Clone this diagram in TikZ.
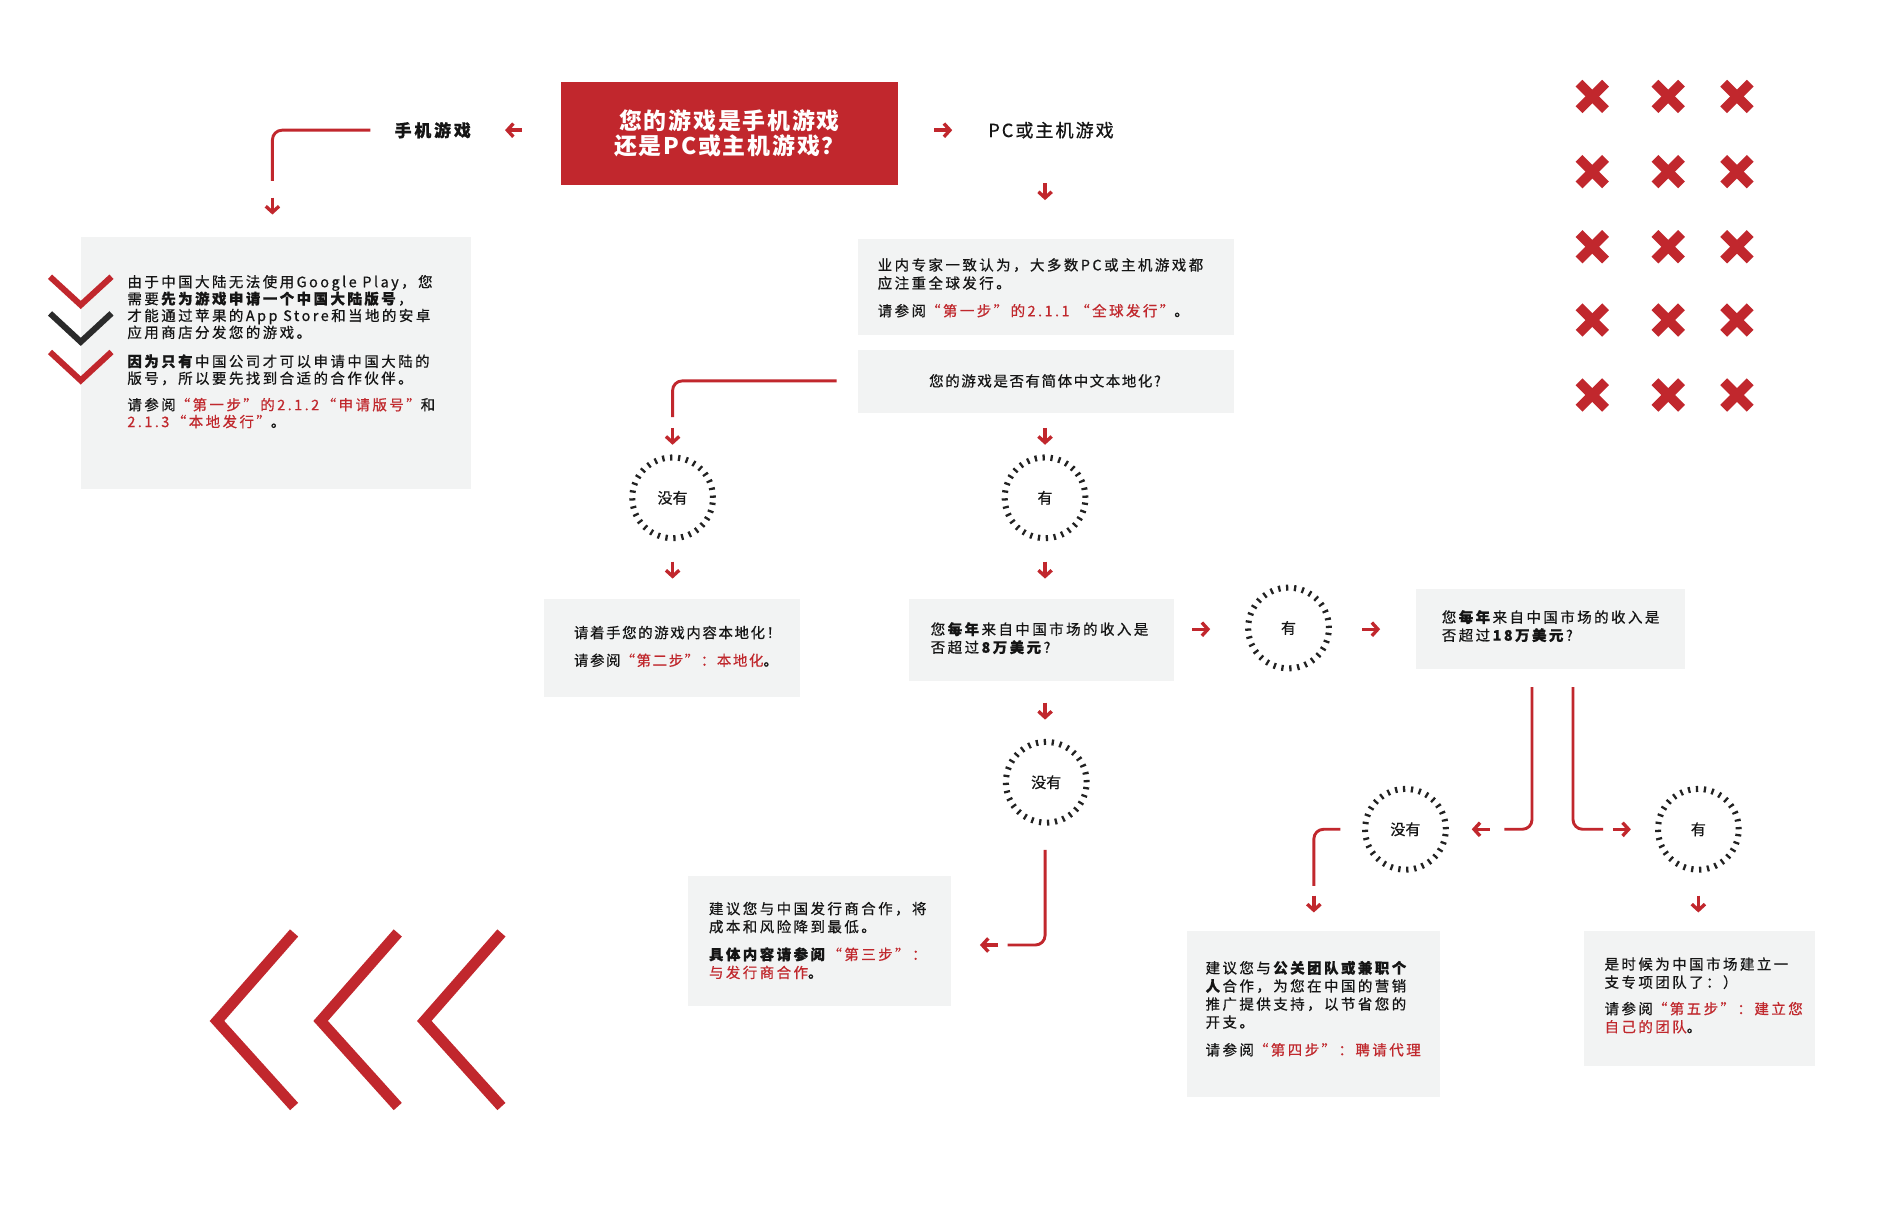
\documentclass[tikz,border=0pt]{standalone}
\usepackage{fontspec}
\setmainfont{Noto Sans CJK SC}
\newfontfamily\bodyf{Noto Sans CJK SC}[LetterSpace=17, FakeBold=0.6]
\newfontfamily\midf{Noto Sans CJK SC}[LetterSpace=11, FakeBold=0.6]
\newfontfamily\headf{Noto Sans CJK SC}[LetterSpace=8]
\newfontfamily\plainf{Noto Sans CJK SC}[FakeBold=0.6]
\usetikzlibrary{arrows.meta,calc}

\definecolor{brandred}{HTML}{C1272D}
\definecolor{linkred}{HTML}{C0282D}
\definecolor{panelgray}{HTML}{F2F3F3}
\definecolor{ink}{HTML}{151515}
\definecolor{tickc}{HTML}{222222}
\definecolor{darkv}{HTML}{2B2B2B}

\newcommand{\redtxt}[1]{\textcolor{linkred}{#1}}

\begin{document}
\begin{tikzpicture}[x=1pt,y=-1pt,
  panel/.style={fill=panelgray, anchor=north west, inner sep=0pt, outer sep=0pt},
  copy/.style={anchor=north west, inner sep=0pt, align=left, text=ink,
    font=\bodyf\fontsize{12}{15}\selectfont},
  ring/.style={circle, draw=tickc, line width=5pt, dash pattern=on 1.9pt off 4.7pt,
    minimum size=67pt, inner sep=0pt, text=ink, font=\plainf\fontsize{12.5}{14}\selectfont},
  link/.style={draw=brandred, line width=2.4pt, rounded corners=8pt},
  arr/.style={draw=brandred, line width=2.8pt, -{Straight Barb[length=5pt,width=11pt]}},
  chev/.style={line width=9pt, line join=miter, line cap=butt, draw=brandred},
  vmark/.style={line width=5pt, line join=miter, line cap=butt},
  cross/.style={line width=8pt, line cap=butt, draw=brandred}
]
\useasboundingbox[fill=white] (0,0) rectangle (1568,1006);

% ---------- title and first branch ----------
\node[fill=brandred, anchor=north west, minimum width=280pt, minimum height=85pt,
      inner sep=0pt, align=center, text=white,
      font=\headf\bfseries\fontsize{19}{20.5}\selectfont] (title) at (465,68)
  {您的游戏是手机游戏\\还是PC或主机游戏？};

\node[text=ink, inner sep=0pt, font=\bodyf\bfseries\fontsize{14}{16}\selectfont] (mob) at (359,108) {手机游戏};
\node[text=ink, inner sep=0pt, font=\midf\fontsize{15}{17}\selectfont] (pc) at (872,108) {PC或主机游戏};

\coordinate (aMobS) at (433,108);  \coordinate (aMobE) at (419,108);
\coordinate (aPcS)  at (775,108);  \coordinate (aPcE)  at (790,108);
\draw[arr] (aMobS) -- (aMobE);
\draw[arr] (aPcS) -- (aPcE);

% ---------- mobile path ----------
\coordinate (kMob) at (226,150);
\draw[link] ($(mob.west)+(-20,0)$) -| (kMob);
\coordinate (aM2S) at (226,164); \coordinate (aM2E) at (226,178);
\draw[arr] (aM2S) -- (aM2E);

\node[panel, minimum width=324pt, minimum height=209pt] (bMob) at (67,197) {};
\draw[vmark, draw=brandred] (41.5,229.6) -- (67,253) -- (92.5,229.6);
\draw[vmark, draw=darkv]    (41.5,260)   -- (67,283.6) -- (92.5,260);
\draw[vmark, draw=brandred] (41.5,292)   -- (67,315.6) -- (92.5,292);
\node[copy, font=\bodyf\fontsize{12}{14}\selectfont] (tMob) at (105.5,228) {由于中国大陆无法使用Google Play，您\\
需要\textbf{先为游戏申请一个中国大陆版号}，\\
才能通过苹果的App Store和当地的安卓\\
应用商店分发您的游戏。\\[10pt]
\textbf{因为只有}中国公司才可以申请中国大陆的\\
版号，所以要先找到合适的合作伙伴。\\[8pt]
请参阅\redtxt{“第一步”的2.1.2“申请版号”}和\\
\redtxt{2.1.3“本地发行”}。};

% ---------- PC path ----------
\coordinate (aPc2S) at (867,152); \coordinate (aPc2E) at (867,166);
\draw[arr] (aPc2S) -- (aPc2E);

\node[panel, minimum width=312pt, minimum height=80pt] (bGlobal) at (712,198) {};
\node[copy] (tGlobal) at (728,214) {业内专家一致认为，大多数PC或主机游戏都\\
应注重全球发行。\\[8pt]
请参阅\redtxt{“第一步”的2.1.1 “全球发行”}。};

\node[panel, minimum width=312pt, minimum height=53pt] (bLoc) at (712,290) {};
\node[text=ink, inner sep=0pt, font=\midf\fontsize{12}{14}\selectfont] (tLoc) at (867,316)
  {您的游戏是否有简体中文本地化?};

\coordinate (kLoc) at (558,346);
\draw[link] (bLoc.west |- tLoc) ++(-18,0) -| (kLoc);
\coordinate (aL1S) at (558,355); \coordinate (aL1E) at (558,369);
\draw[arr] (aL1S) -- (aL1E);
\coordinate (aL2S) at (867,355); \coordinate (aL2E) at (867,369);
\draw[arr] (aL2S) -- (aL2E);

\node[ring] (rNo1)  at (558,413) {没有};
\node[ring] (rYes1) at (867,413) {有};

\coordinate (aN1S) at (558,466); \coordinate (aN1E) at (558,480);
\draw[arr] (aN1S) -- (aN1E);
\coordinate (aY1S) at (867,466); \coordinate (aY1E) at (867,480);
\draw[arr] (aY1S) -- (aY1E);

\node[panel, minimum width=213pt, minimum height=81pt] (bDoLoc) at (451,497) {};
\node[copy, font=\midf\fontsize{12}{15}\selectfont] (tDoLoc) at (476,519)
  {请着手您的游戏内容本地化！\\[8pt]
   请参阅\redtxt{“第二步”：本地化}。};

\node[panel, minimum width=220pt, minimum height=68pt] (bRev8) at (754,497) {};
\node[copy] (tRev8) at (772,516)
  {您\textbf{每年}来自中国市场的收入是\\否超过\textbf{8万美元}?};

% ---------- revenue over 8万 ----------
\coordinate (aR1S) at (989,522); \coordinate (aR1E) at (1004,522);
\draw[arr] (aR1S) -- (aR1E);
\node[ring] (rYes2) at (1069,521) {有};
\coordinate (aR2S) at (1130,522); \coordinate (aR2E) at (1145,522);
\draw[arr] (aR2S) -- (aR2E);

\node[panel, minimum width=223pt, minimum height=66pt] (bRev18) at (1175,489) {};
\node[copy] (tRev18) at (1196,506)
  {您\textbf{每年}来自中国市场的收入是\\否超过\textbf{18万美元}?};

% ---------- revenue under 8万 ----------
\coordinate (aD1S) at (867,583); \coordinate (aD1E) at (867,597);
\draw[arr] (aD1S) -- (aD1E);
\node[ring] (rNo2) at (868,649) {没有};

\node[panel, minimum width=218pt, minimum height=108pt] (bPub) at (571,727) {};
\node[copy] (tPub) at (588,748)
  {建议您与中国发行商合作，将\\成本和风险降到最低。\\[8pt]
   \textbf{具体内容请参阅}\redtxt{“第三步”：}\\
   \redtxt{与发行商合作}。};

\coordinate (kPub) at (836,784);
\draw[link] (867,705) |- (kPub);
\coordinate (aP1S) at (828,784); \coordinate (aP1E) at (813,784);
\draw[arr] (aP1S) -- (aP1E);

% ---------- revenue over / under 18万 ----------
\coordinate (kSplitL) at (1248,688);
\coordinate (kSplitR) at (1330,688);
\draw[link] (1271,570) |- (kSplitL);
\draw[link] (1305,570) |- (kSplitR);
\coordinate (aS1S) at (1236,688); \coordinate (aS1E) at (1221,688);
\draw[arr] (aS1S) -- (aS1E);
\coordinate (aS2S) at (1338,688); \coordinate (aS2E) at (1353,688);
\draw[arr] (aS2S) -- (aS2E);

\node[ring] (rNo3)  at (1166,688) {没有};
\node[ring] (rYes3) at (1409,688) {有};

\coordinate (kAgent) at (1090,735);
\draw[link] ($(rNo3.west)+(-18,0)$) -| (kAgent);
\coordinate (aA1S) at (1090,743); \coordinate (aA1E) at (1090,757);
\draw[arr] (aA1S) -- (aA1E);
\coordinate (aT1S) at (1409,743); \coordinate (aT1E) at (1409,757);
\draw[arr] (aT1S) -- (aT1E);

\node[panel, minimum width=210pt, minimum height=138pt] (bAgent) at (985,772) {};
\node[copy] (tAgent) at (1000,797)
  {建议您与\textbf{公关团队或兼职个}\\\textbf{人}合作，为您在中国的营销\\
   推广提供支持，以节省您的\\开支。\\[8pt]
   请参阅\redtxt{“第四步”：聘请代理}};

\node[panel, minimum width=192pt, minimum height=112pt] (bTeam) at (1314,772) {};
\node[copy] (tTeam) at (1331,794)
  {是时候为中国市场建立一\\支专项团队了：）\\[7pt]
   请参阅\redtxt{“第五步”：建立您}\\\redtxt{自己的团队}。};

% ---------- decorative marks ----------
\foreach \cx in {1321,1384,1441}
  \foreach \cy in {80,142.4,204.7,265.5,327.7} {
    \draw[cross] (\cx-11,\cy-11) -- (\cx+11,\cy+11);
    \draw[cross] (\cx-11,\cy+11) -- (\cx+11,\cy-11);
  }

\foreach \dx in {0,86,172}
  \draw[chev] (244+\dx,774) -- (180+\dx,847) -- (244+\dx,918);

\end{tikzpicture}
\end{document}
